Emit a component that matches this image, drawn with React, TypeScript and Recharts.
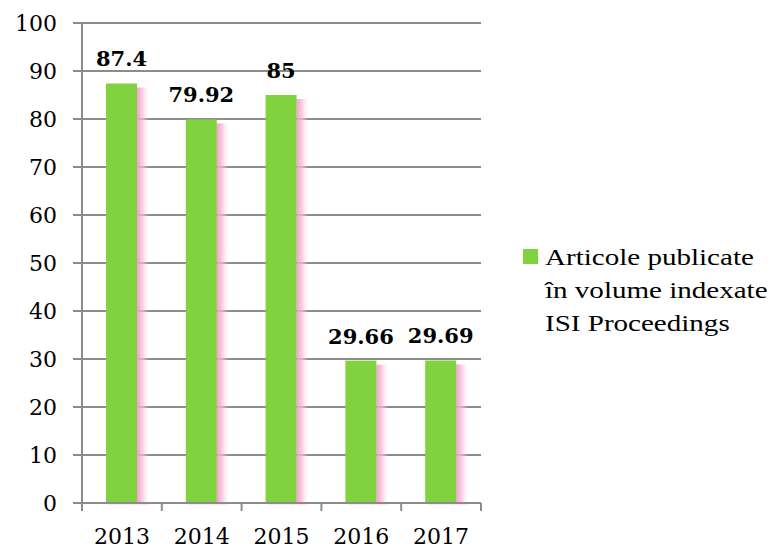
import { BarChart, Bar, XAxis, YAxis, CartesianGrid, LabelList } from 'recharts';

const years = ['2013', '2014', '2015', '2016', '2017'];
const values = [87.4, 79.92, 85, 29.66, 29.69];
const yTicks = [0, 10, 20, 30, 40, 50, 60, 70, 80, 90, 100];
const legendLines = ['Articole publicate', 'în volume indexate', 'ISI Proceedings'];

const data = years.map((year, i) => ({ year, value: values[i] }));

const GREEN = '#80d23e';
const GRID = '#8c8c8c';
const SERIF = '"DejaVu Serif", serif';
const X_TICK_SIZE = 8;
const X_TICK_MARGIN = 17;

// bar with a soft pink shadow on its right side
function ShadowBar(props: any) {
  const { x, y, width, height } = props;
  return (
    <g>
      <rect x={x + width} y={y + 4} width={12} height={height - 4} fill="url(#pinkShadow)" />
      <rect x={x + 2} y={y + height} width={width + 9} height={3} fill="url(#pinkBottom)" />
      <rect x={x} y={y} width={width} height={height} fill={GREEN} />
    </g>
  );
}

// year label + tick marks placed on the category boundaries (Excel style)
function YearTick(props: any) {
  const { x, y, payload, index, visibleTicksCount } = props;
  const half = payload.offset || 0;
  const axisY = y - X_TICK_SIZE - X_TICK_MARGIN;
  const isLast = index === visibleTicksCount - 1;
  return (
    <g>
      <line x1={x - half} x2={x - half} y1={axisY} y2={axisY + X_TICK_SIZE} stroke={GRID} strokeWidth={2} />
      {isLast && (
        <line x1={x + half} x2={x + half} y1={axisY} y2={axisY + X_TICK_SIZE} stroke={GRID} strokeWidth={2} />
      )}
      <text x={x} y={y} dy="0.71em" textAnchor="middle" fill="#000" fontSize={22} fontFamily={SERIF}>
        {payload.value}
      </text>
    </g>
  );
}

export default function App() {
  return (
    <div style={{ position: 'relative', width: 767, height: 541 }}>
      <BarChart
        width={767}
        height={541}
        data={data}
        margin={{ top: 15, right: 294, left: 0, bottom: 0 }}
      >
        <defs>
          <linearGradient id="pinkShadow" x1="0" y1="0" x2="1" y2="0">
            <stop offset="0%" stopColor="#f59ccb" stopOpacity={1} />
            <stop offset="45%" stopColor="#f8b8d9" stopOpacity={0.7} />
            <stop offset="100%" stopColor="#fde4f1" stopOpacity={0} />
          </linearGradient>
          <linearGradient id="pinkBottom" x1="0" y1="0" x2="0" y2="1">
            <stop offset="0%" stopColor="#f59ccb" stopOpacity={0.8} />
            <stop offset="100%" stopColor="#fde4f1" stopOpacity={0} />
          </linearGradient>
        </defs>
        <CartesianGrid vertical={false} stroke={GRID} strokeWidth={2} />
        <XAxis
          dataKey="year"
          height={46}
          interval={0}
          axisLine={{ stroke: GRID, strokeWidth: 2 }}
          tickLine={false}
          tickSize={X_TICK_SIZE}
          tickMargin={X_TICK_MARGIN}
          tick={<YearTick />}
        />
        <YAxis
          width={74}
          domain={[0, 100]}
          ticks={yTicks}
          interval={0}
          tickSize={9}
          tickMargin={16}
          axisLine={{ stroke: GRID, strokeWidth: 2 }}
          tickLine={{ stroke: GRID, strokeWidth: 2 }}
          tick={{ fill: '#000', fontSize: 22, fontFamily: SERIF }}
        />
        <Bar dataKey="value" barSize={31} shape={<ShadowBar />} isAnimationActive={false}>
          <LabelList
            dataKey="value"
            position="top"
            offset={17}
            fill="#000"
            fontSize={21}
            fontWeight="bold"
            fontFamily={SERIF}
          />
        </Bar>
      </BarChart>
      <div
        style={{
          position: 'absolute',
          left: 515,
          top: 233,
          display: 'flex',
          alignItems: 'flex-start',
          fontFamily: '"Liberation Serif", serif',
          fontSize: 24,
          lineHeight: '33px',
          color: '#000',
        }}
      >
        <div style={{ width: 15, height: 15, background: GREEN, marginTop: 8, marginRight: 7 }} />
        <div style={{ transform: 'scaleX(1.21)', transformOrigin: 'left top', whiteSpace: 'nowrap' }}>
          {legendLines.map((line) => (
            <div key={line}>{line}</div>
          ))}
        </div>
      </div>
    </div>
  );
}
